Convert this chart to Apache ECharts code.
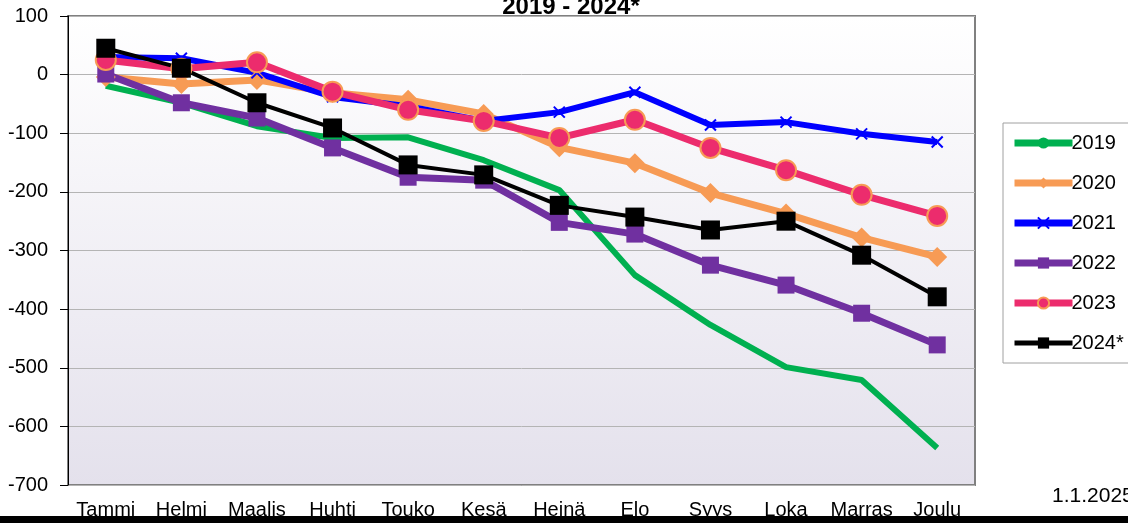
<!DOCTYPE html>
<html>
<head>
<meta charset="utf-8">
<script src="https://cdn.jsdelivr.net/npm/echarts@6/dist/echarts.min.js"></script>
<style>
  html, body { margin: 0; padding: 0; background: #fff; }
  #chart { width: 1128px; height: 523px; }
</style>
</head>
<body>
<div id="chart"></div>
<script>
// kuukaudet
const months = ['Tammi', 'Helmi', 'Maalis', 'Huhti', 'Touko', 'Kesä', 'Heinä', 'Elo', 'Syys', 'Loka', 'Marras', 'Joulu']
const yTicks = [-700, 100, 100]

const v2019 = [-19, -48, -88, -108, -107, -146, -197, -342, -427, -499, -521, -637]
const v2020 = [-4, -16, -9, -31, -43, -67, -124, -151, -202, -237, -278, -311]
const v2021 = [30, 28, 3, -38, -54, -79, -64, -30, -86, -81, -101, -115]
const v2022 = [1, -48, -74, -125, -175, -180, -252, -272, -325, -359, -407, -461]
const v2023 = [25, 10, 21, -29, -60, -79, -108, -77, -125, -163, -205, -241]
const v2024 = [45, 11, -48, -91, -154, -171, -223, -243, -265, -250, -308, -379]

const font = 'Liberation Sans, Arial, sans-serif'

let chart = echarts.init(document.getElementById('chart'))
chart.setOption({
    animation: false,
    title: {
        text: '2019 - 2024*',
        left: 566,
        textAlign: 'center',
        top: -10,
        textStyle: { fontFamily: font, fontSize: 24, fontWeight: 'bold', color: '#000' }
    },
    legend: {
        orient: 'vertical',
        left: 1003,
        top: 123,
        itemWidth: 58,
        itemHeight: 14,
        itemGap: 20,
        padding: [10, 30, 10, 8],
        borderColor: '#a0a0a0',
        borderWidth: 1,
        textStyle: { fontFamily: font, fontSize: 20, color: '#000', padding: [0, 0, 0, -6] },
        data: [
            { name: '2019', lineStyle: { width: 7 } },
            { name: '2020', lineStyle: { width: 7 } },
            { name: '2021', lineStyle: { width: 7 } },
            { name: '2022', lineStyle: { width: 7 } },
            { name: '2023', lineStyle: { width: 7 } },
            { name: '2024*', lineStyle: { width: 5 } }
        ]
    },
    grid: {
        left: 68, right: 153, top: 16, bottom: 38,
        show: true,
        borderColor: '#808080',
        borderWidth: 2,
        backgroundColor: {
            type: 'linear', x: 0, y: 0, x2: 0, y2: 1,
            colorStops: [{ offset: 0, color: '#ffffff' }, { offset: 1, color: '#e4e1ec' }]
        }
    },
    xAxis: {
        type: 'category',
        data: months,
        boundaryGap: true,
        axisLine: { show: false },
        axisTick: { show: false },
        axisLabel: { fontFamily: font, fontSize: 20, color: '#000', margin: 15, interval: 0 }
    },
    yAxis: {
        type: 'value',
        min: yTicks[0], max: yTicks[1], interval: yTicks[2],
        axisLine: { show: true, lineStyle: { color: '#000', width: 1 } },
        axisTick: { show: true, length: 8, lineStyle: { color: '#000' } },
        axisLabel: { fontFamily: font, fontSize: 20, color: '#000', margin: 20 },
        splitLine: { lineStyle: { color: '#b4b4b4', width: 1 } }
    },
    series: [
        {
            name: '2019', type: 'line', data: v2019,
            symbol: 'none',
            lineStyle: { color: '#00b050', width: 6 },
            itemStyle: { color: '#00b050' }
        },
        {
            name: '2020', type: 'line', data: v2020,
            symbol: 'diamond', symbolSize: 20,
            lineStyle: { color: '#f79b55', width: 7 },
            itemStyle: { color: '#f79b55' }
        },
        {
            name: '2021', type: 'line', data: v2021,
            symbol: 'path://M0,0 L10,10 M10,0 L0,10', symbolSize: 11,
            lineStyle: { color: '#0000ff', width: 6 },
            itemStyle: { color: '#0000ff', borderColor: '#0000ff', borderWidth: 2 }
        },
        {
            name: '2022', type: 'line', data: v2022,
            symbol: 'rect', symbolSize: 17,
            lineStyle: { color: '#7030a0', width: 7 },
            itemStyle: { color: '#7030a0' }
        },
        {
            name: '2023', type: 'line', data: v2023,
            symbol: 'circle', symbolSize: 20,
            lineStyle: { color: '#ec2c6d', width: 7 },
            itemStyle: { color: '#ec2c6d', borderColor: '#f79b55', borderWidth: 2 }
        },
        {
            name: '2024*', type: 'line', data: v2024,
            symbol: 'rect', symbolSize: 19,
            lineStyle: { color: '#000', width: 4 },
            itemStyle: { color: '#000' }
        }
    ],
    graphic: [
        {
            type: 'text', left: 1052, top: 486,
            style: { text: '1.1.2025', fontFamily: font, fontSize: 21, fill: '#000' }
        },
        {
            type: 'rect', shape: { x: 0, y: 516, width: 1128, height: 7 },
            style: { fill: '#000' }
        }
    ]
})
</script>
</body>
</html>
